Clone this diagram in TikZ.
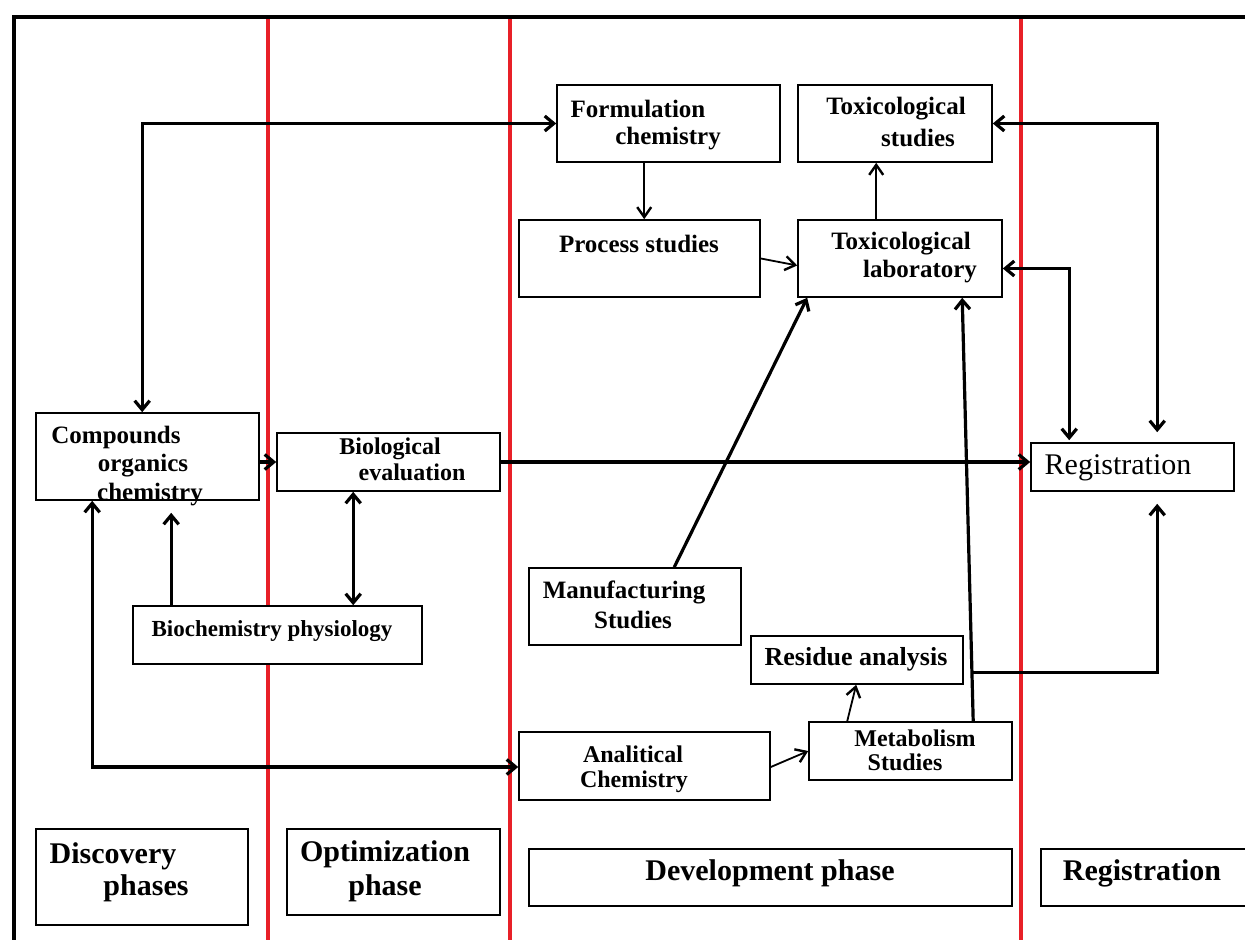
\documentclass[tikz,border=0pt]{standalone}
\usepackage{fontspec}
\setmainfont{Liberation Serif}
\usetikzlibrary{arrows.meta,calc,fit}
\definecolor{redline}{RGB}{232,32,40}
\begin{document}
\begin{tikzpicture}[x=0.5pt,y=-0.5pt,
  box/.style={draw, line width=0.8pt, fill=white, inner sep=0pt},
  txt/.style={font=\bfseries\fontsize{12.5}{15}\selectfont, inner sep=0pt, anchor=center, yshift=-1pt},
  bigtxt/.style={font=\bfseries\fontsize{15}{18}\selectfont, inner sep=0pt, anchor=center, yshift=-1pt},
  thickc/.style={line width=1.6pt, arrows={-Straight Barb[length=4.5pt,width=7.5pt]}},
  thinc/.style={line width=0.9pt, arrows={-Straight Barb[length=5pt,width=7pt,line width=1.2pt]}},
  both/.style={arrows={Straight Barb[length=4.5pt,width=7.5pt]-Straight Barb[length=4.5pt,width=7.5pt]}}
]
\useasboundingbox (0,0) rectangle (1245,940);
% phase separators
\draw[redline, line width=2.2pt] (268,17) -- (268,940);
\draw[redline, line width=2.2pt] (510,17) -- (510,940);
\draw[redline, line width=2.2pt] (1021,17) -- (1021,940);
% frame
\draw[line width=2.4pt] (14,940) -- (14,17) -- (1245,17);

% boxes
\node[box, fit={(557,85)(780,162)}] (form) {};
\node[box, fit={(798,85)(992,162)}] (tstud) {};
\node[box, fit={(519,220)(760,297)}] (proc) {};
\node[box, fit={(798,220)(1002,297)}] (tlab) {};
\node[box, fit={(36,413)(259,500)}] (comp) {};
\node[box, fit={(277,433)(500,491)}] (bio) {};
\node[box, fit={(1031,443)(1234,491)}] (reg) {};
\node[box, fit={(133,606)(422,664)}] (bioch) {};
\node[box, fit={(529,568)(741,645)}] (manu) {};
\node[box, fit={(751,636)(963,684)}] (res) {};
\node[box, fit={(519,732)(770,800)}] (ana) {};
\node[box, fit={(809,722)(1012,780)}] (meta) {};
\node[box, fit={(36,829)(248,925)}] (disc) {};
\node[box, fit={(287,829)(500,915)}] (opt) {};
\node[box, fit={(529,849)(1012,906)}] (dev) {};
\node[box, fit={(1041,849)(1252,906)}] (regp) {};

% texts
\node[txt] (formt1) at (638,107) {Formulation};
\node[txt] (formt2) at (668,137) {chemistry};
\node[txt] (tstudt1) at (896,107) {Toxicological};
\node[txt] (tstudt2) at (918,136) {studies};
\node[txt] (proct) at (639,242) {Process studies};
\node[txt] (tlabt1) at (901,242) {Toxicological};
\node[txt] (tlabt2) at (920,270) {laboratory};
\node[txt] (compt1) at (116,435) {Compounds};
\node[txt] (compt2) at (143,464) {organics};
\node[txt] (compt3) at (150,493) {chemistry};
\node[txt, font=\bfseries\fontsize{12}{14}\selectfont] (biot1) at (390,447) {Biological};
\node[txt, font=\bfseries\fontsize{12}{14}\selectfont] (biot2) at (412,470) {evaluation};
\node[txt, font=\fontsize{15}{18}\selectfont] (regt) at (1118,466) {Registration};
\node[txt, font=\bfseries\fontsize{11.5}{14}\selectfont] (biocht) at (272,629) {Biochemistry physiology};
\node[txt] (manut1) at (624,590) {Manufacturing};
\node[txt] (manut2) at (633,618) {Studies};
\node[txt, font=\bfseries\fontsize{13}{15}\selectfont] (rest) at (856,657) {Residue analysis};
\node[txt, font=\bfseries\fontsize{12}{14}\selectfont] (anat1) at (633,752) {Analitical};
\node[txt, font=\bfseries\fontsize{12}{14}\selectfont] (anat2) at (634,780) {Chemistry};
\node[txt, font=\bfseries\fontsize{12}{14}\selectfont] (metat1) at (915,736) {Metabolism};
\node[txt, font=\bfseries\fontsize{12}{14}\selectfont] (metat2) at (905,760) {Studies};
\node[bigtxt] (disct1) at (113,854) {Discovery};
\node[bigtxt] (disct2) at (146,886) {phases};
\node[bigtxt] (optt1) at (385,852) {Optimization};
\node[bigtxt] (optt2) at (385,886) {phase};
\node[bigtxt] (devt) at (770,871) {Development phase};
\node[bigtxt] (regpt) at (1142,871) {Registration};

% connectors
\draw[thickc, both] ($(comp.north west)+(107,0)$) |- (form.west);
\draw[thinc] ($(form.south west)+(88,0)$) -- ($(proc.north west)+(126,0)$);
\draw[thinc] (proc.east) -- ($(tlab.west)+(0,7)$);
\draw[thinc] ($(tlab.north west)+(79,0)$) -- ($(tstud.south west)+(79,0)$);
\draw[thickc, both] (tstud.east) -| ($(reg.north west)+(127,-10)$);
\draw[thickc, both] ($(tlab.east)+(0,10)$) -| ($(reg.north west)+(39,-2)$);
\draw[thickc] (comp.east |- bio.west) -- (bio.west);
\draw[thickc] (bio.east) -- (reg.west |- bio.east);
\draw[thickc] ($(bioch.north west)+(39,0)$) -- ($(comp.south west)+(136,12)$);
\draw[thickc, both] ($(bio.south west)+(77,0)$) -- ($(bioch.north west)+(221,0)$);
\draw[thickc, both] ($(comp.south west)+(57,0)$) |- ($(ana.west)+(0,1)$);
\draw[thickc] ($(manu.north west)+(146,0)$) -- ($(tlab.south west)+(10,0)$);
\draw[thinc] ($(ana.east)+(0,1)$) -- (meta.west);
\draw[thinc] ($(meta.north west)+(39,0)$) -- ($(res.south west)+(106,0)$);
\coordinate (mt) at ($(meta.north west)+(165,0)$);
\coordinate (lt) at ($(tlab.south west)+(165,0)$);
\draw[thickc] (mt) -- (lt);
\coordinate (br) at ($(mt)!0.1153!(lt)$);
\draw[thickc] (br) -| ($(reg.south west)+(127,12)$);
\end{tikzpicture}
\end{document}
